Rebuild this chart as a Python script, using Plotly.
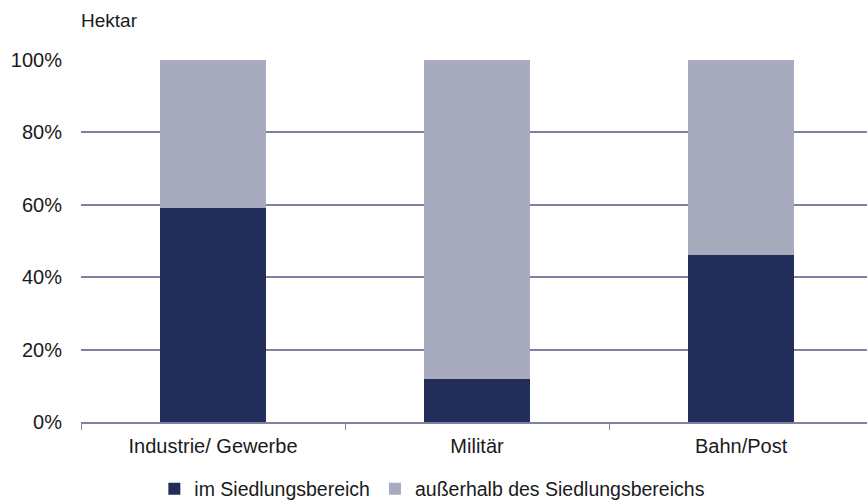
import plotly.graph_objects as go

categories = ["Industrie/ Gewerbe", "Militär", "Bahn/Post"]
im_siedlung = [59, 12, 46]
ausserhalb = [41, 88, 54]
y_ticks = [0, 20, 40, 60, 80, 100]
y_tick_labels = ["0%", "20%", "40%", "60%", "80%", "100%"]

dark = "#232d59"
light = "#a8abbe"
grid = "#7d82a2"
font = dict(family="Liberation Sans, Arial, sans-serif", size=20, color="#1a1a1a")

fig = go.Figure()
fig.add_bar(x=categories, y=im_siedlung, name="im Siedlungsbereich",
            marker=dict(color=dark, line=dict(width=0)), width=0.4)
fig.add_bar(x=categories, y=ausserhalb, name="außerhalb des Siedlungsbereichs",
            marker=dict(color=light, line=dict(width=0)), width=0.4)

fig.update_layout(
    barmode="stack",
    width=867, height=501,
    margin=dict(l=81, r=0, t=60, b=79, autoexpand=False),
    paper_bgcolor="white", plot_bgcolor="white",
    font=font,
    showlegend=True,
    legend=dict(orientation="h", x=0.447, xanchor="center", y=-0.185, yanchor="middle",
                font=dict(size=19.5), itemwidth=30, traceorder="normal",
                borderwidth=0),
    annotations=[dict(text="Hektar", xref="paper", yref="paper", x=-0.003, y=1.11,
                      xanchor="left", yanchor="middle", showarrow=False,
                      font=dict(size=19))],
)

fig.update_xaxes(range=[-0.5, 2.477], showgrid=False, showline=True, linecolor=grid,
                 linewidth=2, ticks="outside", tickson="boundaries", ticklen=6,
                 tickcolor=grid, tickwidth=1, ticklabelstandoff=5)
fig.update_yaxes(range=[0, 100], tickvals=y_ticks, ticktext=y_tick_labels,
                 showgrid=True, gridcolor=grid, gridwidth=1.5, zeroline=False,
                 showline=False, ticks="", ticklabelstandoff=18)

fig.write_html("out.html")
